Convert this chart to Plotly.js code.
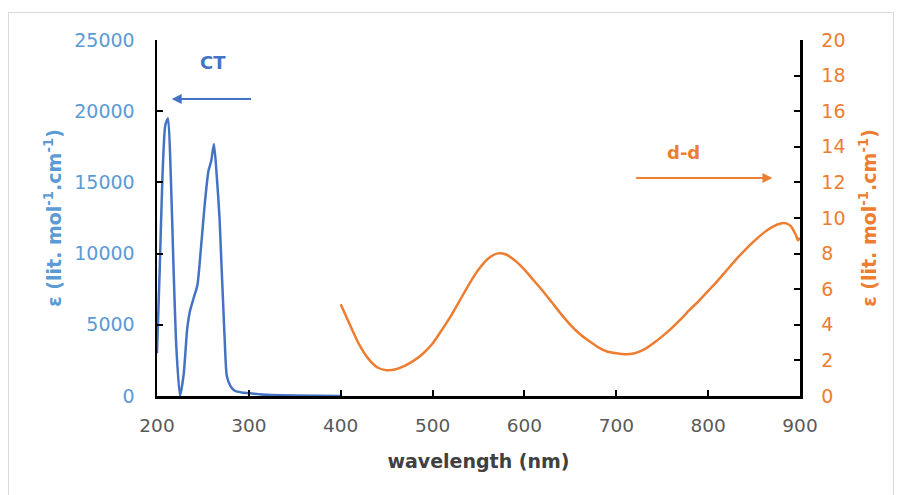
<!DOCTYPE html>
<html>
<head>
<meta charset="utf-8">
<script src="https://cdn.plot.ly/plotly-3.0.1.min.js"></script>
<style>
  body { margin: 0; background: #fff; }
  #frame { position: absolute; left: 8px; top: 12px; width: 886px; height: 490px; border: 1px solid #d9d9d9; box-sizing: border-box; pointer-events: none; z-index: 5; }
  #chart { width: 900px; height: 495px; }
</style>
</head>
<body>
<div id="frame"></div>
<div id="chart"></div>
<script>
// CT band (left axis)
const ctWavelength = [200, 203, 206, 209, 212, 215, 218, 221, 225, 229, 233, 236, 240, 244, 248, 252, 256, 259, 262, 265, 268, 270, 272, 274, 276, 280, 285, 292, 300, 320, 350, 400];
const ctEpsilon    = [3000, 9000, 15500, 19000, 19500, 15500, 9000, 3500, 0, 1500, 4800, 6000, 6900, 7800, 10500, 13500, 15800, 16500, 17700, 15500, 12600, 9500, 6500, 3500, 1400, 700, 350, 250, 200, 80, 30, 0];

// d-d band (right axis)
const ddWavelength = [400, 410, 420, 430, 440, 450, 460, 470, 480, 490, 500, 510, 520, 530, 540, 550, 560, 570, 580, 590, 600, 610, 620, 630, 640, 650, 660, 670, 680, 690, 700, 710, 720, 730, 740, 750, 760, 770, 780, 790, 800, 810, 820, 830, 840, 850, 860, 870, 880, 885, 890, 895, 898, 900];
const ddEpsilon    = [5.15, 4.0, 2.9, 2.1, 1.6, 1.45, 1.5, 1.7, 2.0, 2.4, 2.95, 3.7, 4.5, 5.4, 6.3, 7.1, 7.7, 8.0, 7.95, 7.6, 7.1, 6.5, 5.9, 5.25, 4.6, 4.0, 3.5, 3.1, 2.75, 2.5, 2.4, 2.35, 2.4, 2.6, 2.95, 3.35, 3.8, 4.3, 4.85, 5.35, 5.9, 6.45, 7.05, 7.65, 8.2, 8.7, 9.15, 9.5, 9.7, 9.7, 9.55, 9.1, 8.75, 8.9];

const xTicks = [200, 300, 400, 500, 600, 700, 800, 900];
const leftTicks = [0, 5000, 10000, 15000, 20000, 25000];
const rightTicks = [0, 2, 4, 6, 8, 10, 12, 14, 16, 18, 20];

const blue = '#4472c4';
const lightBlue = '#5b9bd5';
const orange = '#ed7d31';
const FONT = 'DejaVu Sans, Liberation Sans, Arial, sans-serif';

const traces = [
  { x: ctWavelength, y: ctEpsilon, type: 'scatter', mode: 'lines', line: { color: blue, width: 2.5, shape: 'spline', smoothing: 0.6 }, yaxis: 'y', hoverinfo: 'skip' },
  { x: ddWavelength, y: ddEpsilon, type: 'scatter', mode: 'lines', line: { color: orange, width: 2.5, shape: 'spline', smoothing: 0.8 }, yaxis: 'y2', hoverinfo: 'skip' }
];

const layout = {
  width: 900, height: 495,
  margin: { l: 157, r: 100, t: 40, b: 99 },
  paper_bgcolor: '#ffffff', plot_bgcolor: '#ffffff',
  showlegend: false,
  font: { family: FONT },
  xaxis: {
    range: [200, 900], tickvals: xTicks, ticktext: xTicks.map(String),
    showgrid: false, zeroline: false, showline: true, linecolor: '#000', linewidth: 2.5,
    ticks: 'inside', ticklen: 6, tickwidth: 2, tickcolor: '#000',
    tickfont: { size: 18.5, color: '#595959' }, ticklabelstandoff: 11,
    title: { text: '<b>wavelength (nm)</b>', font: { size: 19, color: '#404040' }, standoff: 20 }
  },
  yaxis: {
    range: [0, 25000], tickvals: leftTicks, ticktext: leftTicks.map(String),
    showgrid: false, zeroline: false, showline: true, linecolor: '#000', linewidth: 2.5,
    ticks: 'inside', ticklen: 6, tickwidth: 2, tickcolor: '#000',
    tickfont: { size: 19, color: lightBlue }, ticklabelstandoff: 16,
    title: { text: '<b>ε (lit. mol<sup>-1</sup>.cm<sup>-1</sup>)</b>', font: { size: 19, color: lightBlue }, standoff: 8 }
  },
  yaxis2: {
    range: [0, 20], tickvals: rightTicks, ticktext: rightTicks.map(String),
    overlaying: 'y', side: 'right',
    showgrid: false, zeroline: false, showline: true, linecolor: '#000', linewidth: 2.5,
    ticks: 'inside', ticklen: 6, tickwidth: 2, tickcolor: '#000',
    tickfont: { size: 19, color: orange }, ticklabelstandoff: 15,
    title: { text: '<b>ε (lit. mol<sup>-1</sup>.cm<sup>-1</sup>)</b>', font: { size: 19, color: orange }, standoff: 18 }
  },
  annotations: [
    { x: 261, y: 23400, xref: 'x', yref: 'y', text: '<b>CT</b>', showarrow: false, font: { size: 18, color: blue } },
    { x: 216, y: 20850, ax: 304, ay: 20850, xref: 'x', yref: 'y', axref: 'x', ayref: 'y', text: '', showarrow: true, arrowhead: 2, arrowsize: 1, arrowwidth: 2, arrowcolor: blue },
    { x: 773, y: 13.7, xref: 'x', yref: 'y2', text: '<b>d-d</b>', showarrow: false, font: { size: 18, color: orange } },
    { x: 870, y: 12.25, ax: 720, ay: 12.25, xref: 'x', yref: 'y2', axref: 'x', ayref: 'y2', text: '', showarrow: true, arrowhead: 2, arrowsize: 1, arrowwidth: 2, arrowcolor: orange }
  ]
};

Plotly.newPlot('chart', traces, layout, { displayModeBar: false, staticPlot: true });
</script>
</body>
</html>
